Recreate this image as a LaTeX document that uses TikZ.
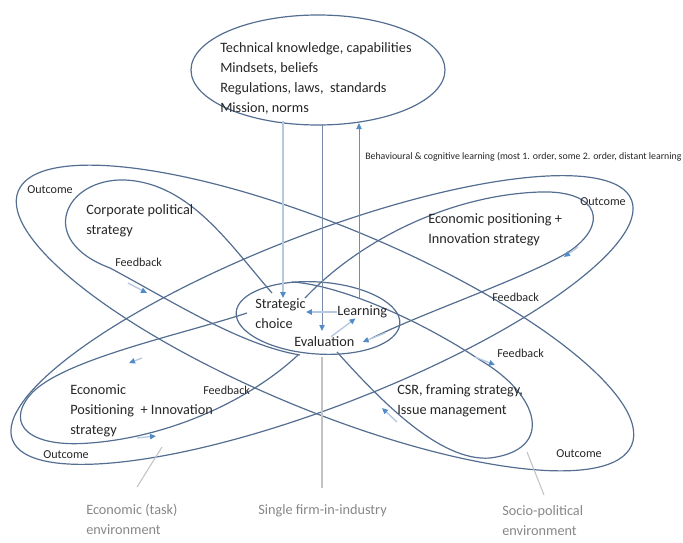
\documentclass[tikz,border=0pt]{standalone}
\usepackage{fontspec}
\setmainfont{Carlito}
\usetikzlibrary{arrows.meta}
\definecolor{loopblue}{RGB}{84,110,145}
\definecolor{paleblue}{RGB}{180,200,224}
\definecolor{tipblue}{RGB}{82,140,200}
\definecolor{envgray}{RGB}{135,135,135}
\definecolor{pointgray}{RGB}{195,195,195}
\tikzset{
  loopline/.style={draw=loopblue, line width=0.9pt},
  feedarrow/.style={draw=paleblue, line width=1pt, -{Triangle[length=4.5pt,width=4pt,color=tipblue]}},
  stemarrow/.style={draw=loopblue!80, line width=0.6pt, -{Triangle[length=4.5pt,width=4pt,color=tipblue]}},
  lab/.style={font=\fontsize{10.7}{15}\selectfont, align=left, inner sep=0pt, text=black!85},
  smalllab/.style={font=\fontsize{9.1}{11}\selectfont, inner sep=0pt, text=black!85},
  envlab/.style={font=\fontsize{10.7}{15}\selectfont, align=left, inner sep=0pt, text=envgray},
}
\begin{document}
\begin{tikzpicture}[x=0.75pt,y=0.75pt,yscale=-1,xscale=1]
    \useasboundingbox (0,0) rectangle (683,543);

    % Knowledge ellipse and core ellipse
    \draw[loopline] (318,70) ellipse [x radius=127, y radius=55];
    \draw[loopline, rotate around={4:(318,318)}] (318,318) ellipse [x radius=82, y radius=36];

    % Outcome loops
    \draw[loopline, rotate around={22.5:(325,318)}] (325,318) ellipse [x radius=332, y radius=92];
    \draw[loopline, rotate around={-21.2:(322,320)}] (322,320) ellipse [x radius=332, y radius=86];

    % Feedback loops
    \draw[loopline] (272,293) .. controls (230,245) and (190,183) .. (125,180) .. controls (65,178) and (35,240) .. (110,268) .. controls (170,300) and (240,345) .. (300,355);
    \draw[loopline] (305,298) .. controls (360,240) and (450,195) .. (540,192) .. controls (600,190) and (610,225) .. (567,253) .. controls (520,280) and (430,310) .. (372,338);
    \draw[loopline] (247,313) .. controls (180,335) and (60,360) .. (30,395) .. controls (5,425) and (30,448) .. (90,443) .. controls (170,437) and (250,400) .. (298,355);
    \draw[loopline] (292,282) .. controls (340,285) and (420,320) .. (480,360) .. controls (540,395) and (555,450) .. (490,458) .. controls (440,462) and (380,400) .. (337,352);

    % Text Nodes
    \node[lab, anchor=north west] (beliefs) at (220,42) {Technical knowledge, capabilities\\Mindsets, beliefs\\Regulations, laws, \ standards\\Mission, norms};
    \node[lab, anchor=north west] (choice) at (255,298) {Strategic\\choice};
    \node[lab, anchor=west] (learn) at (337,312) {Learning};
    \node[lab, anchor=west] (eval) at (294,342) {Evaluation};
    \node[lab, anchor=north west] (cps) at (86,204) {Corporate political\\strategy};
    \node[lab, anchor=north west] (epUR) at (428,213) {Economic positioning +\\Innovation strategy};
    \node[lab, anchor=north west] (epLL) at (70,384) {Economic\\Positioning \ + Innovation\\strategy};
    \node[lab, anchor=north west] (csr) at (397,384) {CSR, framing strategy,\\Issue management};
    \node[smalllab, anchor=west] (outUL) at (27,190) {Outcome};
    \node[smalllab, anchor=west] (outUR) at (580,202) {Outcome};
    \node[smalllab, anchor=west] (outLL) at (43,455) {Outcome};
    \node[smalllab, anchor=west] (outLR) at (556,454) {Outcome};
    \node[smalllab, anchor=west] (fbUL) at (115,262) {Feedback};
    \node[smalllab, anchor=west] (fbUR) at (492,297) {Feedback};
    \node[smalllab, anchor=west] (fbLL) at (203,390) {Feedback};
    \node[smalllab, anchor=west] (fbLR) at (497,353) {Feedback};
    \node[anchor=west, inner sep=0pt, text=black!85, font=\fontsize{7.4}{9}\selectfont] (behav) at (365,157) {Behavioural \& cognitive learning (most 1. order, some 2. order, distant learning};
    \node[envlab, anchor=north west] (envEco) at (86,504) {Economic (task)\\environment};
    \node[envlab, anchor=north west] (envFirm) at (258,504) {Single firm-in-industry};
    \node[envlab, anchor=north west] (envSoc) at (502,505) {Socio-political\\environment};

    % Stems between knowledge and core
    \coordinate (kA) at (283,121);
    \coordinate (kB) at (322,124);
    \coordinate (kC) at (359,123);
    \coordinate (lC) at (359,298);
    \coordinate (eB) at (322,331);
    \coordinate (coreFoot) at (322,357);
    \coordinate (firmTop) at (322,488);
    \draw[feedarrow] (kA) -- (kA |- choice.north);
    \draw[stemarrow] (kB) -- (eB);
    \draw[stemarrow] (lC) -- (kC);
    \draw[draw=pointgray, line width=0.8pt] (coreFoot) -- (firmTop);

    % Core arrows
    \draw[feedarrow] (learn.west) -- (learn.west -| choice.east);
    \draw[feedarrow] ([xshift=5pt]eval.north) -- ([xshift=-5pt]learn.south);
    \coordinate (evIn) at (385,333);
    \draw[feedarrow] (evIn) -- ([xshift=6pt]eval.east);

    % Feedback arrows on loops
    \foreach \a/\b in {{(128,283)}/{(147,293)}, {(578,247)}/{(564,257)}, {(142,358)}/{(129,363)}, {(137,438)}/{(156,436)}, {(475,357)}/{(495,365)}, {(397,422)}/{(382,408)}}
      \draw[feedarrow] \a -- \b;

    % Pointers to environments
    \coordinate (ptEco) at (162,447);
    \coordinate (ecoEnd) at (137,487);
    \coordinate (ptSoc) at (527,452);
    \coordinate (socEnd) at (544,495);
    \draw[draw=pointgray, line width=0.8pt] (ptEco) -- (ecoEnd);
    \draw[draw=pointgray, line width=0.8pt] (ptSoc) -- (socEnd);
\end{tikzpicture}
\end{document}
